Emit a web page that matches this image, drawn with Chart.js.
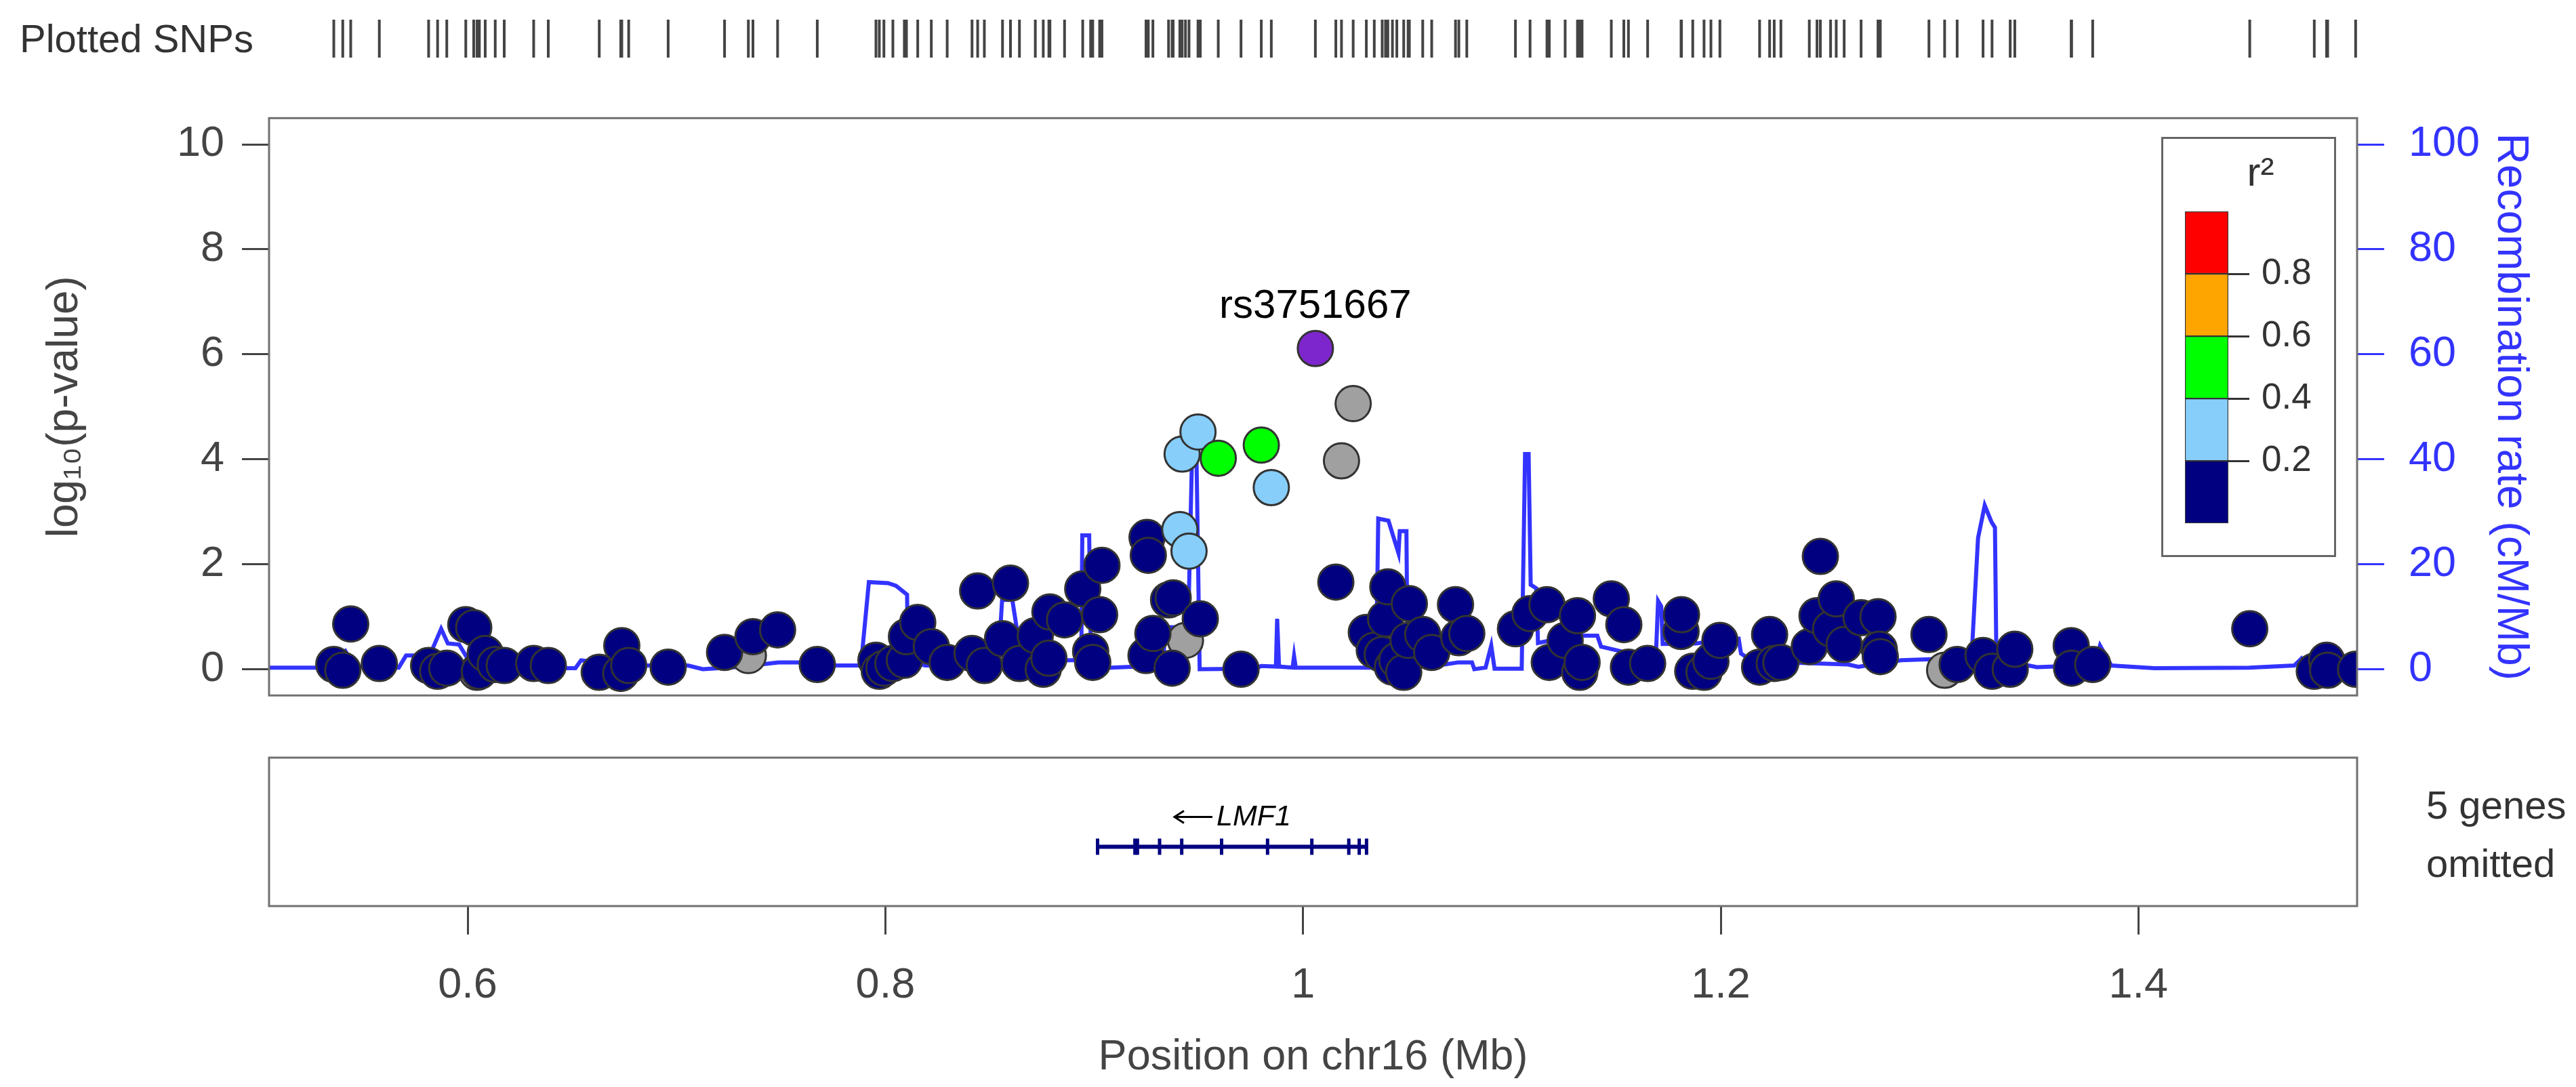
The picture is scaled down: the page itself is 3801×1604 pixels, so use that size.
<!DOCTYPE html>
<html>
<head>
<meta charset="utf-8">
<script src="https://cdn.jsdelivr.net/npm/chart.js@4.4.1/dist/chart.umd.min.js"></script>
<style>
  html, body { margin: 0; padding: 0; background: #fff; }
  body { width: 3801px; height: 1604px; position: relative; overflow: hidden;
         font-family: "Liberation Sans", Arial, sans-serif; }
  .pane { position: absolute; }
  .pane canvas { display: block; }
  .txt { position: absolute; color: #333; white-space: nowrap; }
</style>
</head>
<body>
<div class="txt" style="left:29px; top:22px; font-size:58px; line-height:70px;">Plotted SNPs</div>
<div class="pane" style="left:0; top:17px;"><canvas id="rug" width="3801" height="80"></canvas></div>
<div class="pane" style="left:0; top:100px;"><canvas id="main" width="3801" height="1000"></canvas></div>
<div class="pane" style="left:3189px; top:202px;"><canvas id="ldkey" width="258" height="620"></canvas></div>
<div class="pane" style="left:0; top:1100px;"><canvas id="genes" width="3801" height="504"></canvas></div>
<div class="txt" style="left:3580px; top:1145px; font-size:58px; line-height:86px;">5 genes<br>omitted</div>

<script>
// ---- data ----
// SNP position (Mb), -log10 p, LD bin (0: r2<0.2, 1: 0.2-0.4, 2: 0.4-0.6, -1: no LD info, 9: index SNP)
const snpPos = [
  0.5359, 0.5402, 0.5440, 0.5577, 0.5813, 0.5856, 0.5900, 0.5991, 0.6029, 0.6045,
  0.6056, 0.6084, 0.6132, 0.6175, 0.6316, 0.6386, 0.6630, 0.6733, 0.6738, 0.6771,
  0.6960, 0.7230, 0.7344, 0.7366, 0.7484, 0.7674, 0.7955, 0.7971, 0.7993, 0.8036,
  0.8091, 0.8101, 0.8155, 0.8220, 0.8296, 0.8415, 0.8442, 0.8474, 0.8561, 0.8599,
  0.8642, 0.8718, 0.8756, 0.8783, 0.8788, 0.8858, 0.8945, 0.8983, 0.8993, 0.9026,
  0.9037, 0.9248, 0.9253, 0.9259, 0.9281, 0.9356, 0.9373, 0.9378, 0.9410, 0.9421,
  0.9437, 0.9454, 0.9497, 0.9508, 0.9594, 0.9703, 0.9800, 0.9848, 1.0059, 1.0157,
  1.0184, 1.0240, 1.0303, 1.0341, 1.0379, 1.0395, 1.0406, 1.0428, 1.0449, 1.0482,
  1.0503, 1.0509, 1.0573, 1.0616, 1.0730, 1.0746, 1.0784, 1.1017, 1.1087, 1.1168,
  1.1179, 1.1255, 1.1314, 1.1325, 1.1336, 1.1476, 1.1536, 1.1558, 1.1650, 1.1810,
  1.1812, 1.1866, 1.1920, 1.1953, 1.1996, 1.2186, 1.2234, 1.2256, 1.2288, 1.2424,
  1.2461, 1.2477, 1.2526, 1.2553, 1.2591, 1.2672, 1.2753, 1.2759, 1.2764, 1.2997,
  1.3072, 1.3132, 1.3256, 1.3299, 1.3386, 1.3408, 1.3678, 1.3680, 1.3781, 1.4533,
  1.4842, 1.4901, 1.4906, 1.5040
];
const snpLogP = [
  0.09, -0.02, 0.86, 0.11, 0.07, -0.04, 0.02, 0.85, 0.79, -0.06,
  -0.04, 0.30, 0.09, 0.07, 0.11, 0.07, -0.06, -0.08, 0.45, 0.07,
  0.04, 0.32, 0.26, 0.62, 0.75, 0.09, 0.17, -0.04, 0.02, 0.11,
  0.17, 0.62, 0.89, 0.43, 0.13, 0.30, 1.49, 0.07, 0.58, 1.64,
  0.11, 0.64, 0.00, 0.21, 1.09, 0.94, 1.53, 0.34, 0.13, 1.04,
  1.98, 0.26, 2.51, 2.17, 0.68, 1.32, 0.02, 1.36, 2.66, 4.10,
  0.55, 2.25, 4.52, 0.96, 4.02, 0.00, 4.27, 3.46, 6.11, 1.66,
  3.97, 5.06, 0.70, 0.36, 0.28, 0.96, 1.57, 0.04, 0.17, -0.06,
  0.55, 1.25, 0.66, 0.32, 1.23, 0.60, 0.68, 0.77, 1.06, 1.23,
  0.13, 0.55, 1.02, -0.06, 0.13, 1.34, 0.85, 0.04, 0.11, 0.72,
  1.04, -0.04, -0.06, 0.15, 0.55, 0.04, 0.66, 0.11, 0.13, 0.43,
  1.02, 2.15, 0.77, 1.34, 0.47, 0.98, 1.00, 0.38, 0.24, 0.66,
  -0.02, 0.09, 0.26, -0.04, 0.00, 0.38, 0.45, 0.02, 0.09, 0.77,
  -0.04, 0.17, -0.02, 0.00
];
const snpLD = [
  0, 0, 0, 0, 0, 0, 0, 0, 0, -1,
  0, 0, 0, 0, 0, 0, 0, 0, 0, 0,
  0, 0, -1, 0, 0, 0, 0, 0, 0, 0,
  0, 0, 0, 0, 0, 0, 0, 0, 0, 0,
  0, 0, 0, 0, 0, 0, 0, 0, 0, 0,
  0, 0, 0, 0, 0, 0, 0, 0, 1, 1,
  -1, 1, 1, 0, 2, 0, 2, 1, 9, 0,
  -1, -1, 0, 0, 0, 0, 0, 0, 0, 0,
  0, 0, 0, 0, 0, 0, 0, 0, 0, 0,
  0, 0, 0, 0, 0, 0, 0, 0, 0, 0,
  0, 0, 0, 0, 0, 0, 0, 0, 0, 0,
  0, 0, 0, 0, 0, 0, 0, 0, 0, 0,
  -1, 0, 0, 0, 0, 0, 0, 0, 0, 0,
  0, 0, 0, 0
];
const indexSnp = 'rs3751667';

// recombination rate (cM/Mb)
const recPos = [
  0.5049, 0.535, 0.5415, 0.546, 0.567, 0.5705, 0.5818, 0.5873, 0.5905, 0.5959,
  0.600, 0.610, 0.6478, 0.6516, 0.6543, 0.665, 0.686, 0.7055, 0.7126, 0.7162,
  0.7304, 0.7488, 0.7596, 0.7769, 0.7883, 0.7921, 0.8013, 0.8051, 0.8104, 0.8108,
  0.8191, 0.8540, 0.8559, 0.8608, 0.8640, 0.8660, 0.8878, 0.8938, 0.8943, 0.8976,
  0.8985, 0.9078, 0.9175, 0.9330, 0.9340, 0.9380, 0.9400, 0.9450, 0.9468, 0.9490,
  0.9505, 0.9765, 0.9800, 0.9870, 0.9876, 0.9885, 0.9950, 0.9957, 0.9965, 1.0350,
  1.0360, 1.0409, 1.0457, 1.0463, 1.0495, 1.0500, 1.0679, 1.0744, 1.0809, 1.0820,
  1.0874, 1.0901, 1.0917, 1.1047, 1.1063, 1.1080, 1.1090, 1.1117, 1.1125, 1.1301,
  1.1409, 1.1427, 1.1523, 1.1690, 1.1700, 1.1715, 1.1722, 1.1880, 1.2086, 1.2097,
  1.2150, 1.2610, 1.2659, 1.2864, 1.3005, 1.3200, 1.3232, 1.3264, 1.3297, 1.3313,
  1.3320, 1.3449, 1.3514, 1.3790, 1.3816, 1.3870, 1.4076, 1.4530, 1.4746, 1.4780,
  1.4800, 1.5047
];
const recRate = [
  0.3, 0.3, 3.4, 0.5, 0.3, 2.6, 2.6, 7.7, 4.9, 4.7,
  2.0, 0.5, 0.2, 0.2, 1.7, 1.2, 0.7, 0.7, 0.0, 0.1,
  0.45, 1.3, 1.3, 0.7, 0.7, 16.6, 16.4, 15.9, 14.2, 1.5,
  0.7, 0.8, 13.2, 13.2, 5.0, 1.0, 1.7, 1.7, 25.5, 25.5,
  0.5, 0.3, 0.45, 0.8, 8.0, 8.0, 4.0, 8.0, 40.0, 40.0,
  0.0, 0.1, 0.6, 0.5, 9.6, 0.5, 0.3, 2.5, 0.3, 0.3,
  28.7, 28.3, 22.1, 26.3, 26.3, 2.0, 0.9, 1.3, 1.3, 0.0,
  0.3, 4.5, 0.1, 0.1, 41.0, 41.0, 16.1, 15.4, 5.0, 6.4,
  6.4, 4.3, 3.4, 3.0, 13.0, 12.0, 4.8, 4.9, 5.8, 3.0,
  1.5, 0.9, 0.45, 1.7, 1.9, 1.5, 25.0, 31.2, 28.0, 27.0,
  1.5, 0.9, 0.4, 0.8, 4.5, 0.7, 0.2, 0.3, 0.7, 2.0,
  0.5, 0.5
];

// gene track
const geneName = 'LMF1';
const geneStart = 0.9016, geneEnd = 1.0304;
const exonPos = [0.9016, 0.9195, 0.9207, 0.9313, 0.9419, 0.9610, 0.9830, 1.0042, 1.0219, 1.0269, 1.0304];

// axes and key
const xTicks = [0.6, 0.8, 1, 1.2, 1.4];
const pTicks = [0, 2, 4, 6, 8, 10];
const recTicks = [0, 20, 40, 60, 80, 100];
const ldBreaks = [0.2, 0.4, 0.6, 0.8];
const ldColors = ['#000080', '#87CEFA', '#00FF00', '#FFA500', '#FF0000'];
const greyColor = '#A0A0A0', indexColor = '#7D26CD';

const xMin = 0.5049, xMax = 1.5047;
const FONT = '"Liberation Sans", Arial, sans-serif';
const RECOMB = '#3333FF';

Chart.defaults.font.family = FONT;
Chart.defaults.animation = false;
Chart.defaults.responsive = false;
Chart.defaults.plugins.legend.display = false;
Chart.defaults.plugins.tooltip.enabled = false;

const fixTicks = list => scale => { scale.ticks = list.map(v => ({ value: v })); };

// box round the plotting area
const frame = {
  id: 'frame',
  afterDatasetsDraw(chart, args, opts) {
    const { ctx, chartArea: a } = chart;
    ctx.save();
    ctx.strokeStyle = opts.color || '#666';
    ctx.lineWidth = opts.width || 3;
    ctx.strokeRect(a.left, a.top, a.right - a.left, a.bottom - a.top);
    ctx.restore();
  }
};

// ---- main panel ----
const groups = [
  { ld: 9, color: indexColor, order: 0 },
  { ld: 2, color: ldColors[2], order: 1 },
  { ld: 1, color: ldColors[1], order: 2 },
  { ld: 0, color: ldColors[0], order: 3 },
  { ld: -1, color: greyColor, order: 4 }
];
const pointSets = groups.map(g => ({
  type: 'scatter',
  order: g.order,
  data: snpPos.map((x, i) => ({ x: x, y: snpLogP[i], ld: snpLD[i] })).filter(d => d.ld === g.ld),
  backgroundColor: g.color,
  borderColor: '#333333',
  borderWidth: 3,
  pointRadius: 26,
  pointHoverRadius: 26,
  yAxisID: 'y'
}));

const snpLabel = {
  id: 'snpLabel',
  afterDatasetsDraw(chart) {
    const { ctx, scales } = chart;
    const i = snpLD.indexOf(9);
    ctx.save();
    ctx.font = '60px ' + FONT;
    ctx.fillStyle = '#000';
    ctx.textAlign = 'center';
    ctx.textBaseline = 'alphabetic';
    ctx.fillText(indexSnp, scales.x.getPixelForValue(snpPos[i]), scales.y.getPixelForValue(6.69));
    ctx.restore();
  }
};

new Chart(document.getElementById('main'), {
  data: {
    datasets: pointSets.concat([{
      type: 'line',
      order: 10,
      data: recPos.map((x, i) => ({ x: x, y: recRate[i] })),
      borderColor: RECOMB,
      borderWidth: 6,
      pointRadius: 0,
      tension: 0,
      yAxisID: 'y2'
    }])
  },
  options: {
    layout: { padding: { left: 0, right: 0, top: 74.3, bottom: 62.2 } },
    scales: {
      x: { type: 'linear', min: xMin, max: xMax, display: false },
      y: {
        type: 'linear', position: 'left', min: -0.5, max: 10.5,
        afterBuildTicks: fixTicks(pTicks),
        afterFit: s => { s.width = 397; },
        grid: { drawOnChartArea: false, tickLength: 40, tickColor: '#444', lineWidth: 3 },
        border: { display: false },
        ticks: { color: '#444', font: { size: 63 }, padding: 26 },
        title: { display: true, text: 'log\u2081\u2080(p-value)', color: '#444', font: { size: 64 }, padding: { top: 58 } }
      },
      y2: {
        type: 'linear', position: 'right', min: -5, max: 105,
        afterBuildTicks: fixTicks(recTicks),
        afterFit: s => { s.width = 3801 - 3478; },
        grid: { drawOnChartArea: false, tickLength: 40, tickColor: RECOMB, lineWidth: 3 },
        border: { display: false },
        ticks: { color: RECOMB, font: { size: 63 }, padding: 36 },
        title: { display: true, text: 'Recombination rate (cM/Mb)', color: RECOMB, font: { size: 64 }, padding: { top: 59 } }
      }
    },
    plugins: { frame: { color: '#707070', width: 3 } }
  },
  plugins: [frame, snpLabel]
});

// ---- rug of plotted SNPs ----
new Chart(document.getElementById('rug'), {
  type: 'scatter',
  data: {
    datasets: [{
      data: snpPos.map(x => ({ x: x, y: 0 })),
      pointStyle: 'line',
      rotation: 90,
      pointRadius: 28,
      borderWidth: 4,
      borderColor: '#444444',
      clip: false
    }]
  },
  options: {
    layout: { padding: { left: 397, right: 3801 - 3478, top: 0, bottom: 0 } },
    scales: {
      x: { type: 'linear', min: xMin, max: xMax, display: false },
      y: { min: -1, max: 1, display: false }
    }
  }
});

// ---- r2 key ----
const keyBorder = {
  id: 'keyBorder',
  beforeDraw(chart) {
    const { ctx, width, height } = chart;
    ctx.save();
    ctx.strokeStyle = '#666';
    ctx.lineWidth = 3;
    ctx.strokeRect(1.5, 1.5, width - 3, height - 3);
    ctx.restore();
  }
};
new Chart(document.getElementById('ldkey'), {
  type: 'bar',
  data: {
    labels: ['r2'],
    datasets: ldColors.map(c => ({
      data: [0.2],
      backgroundColor: c,
      borderColor: '#333333',
      borderWidth: 1.5,
      borderSkipped: false,
      barPercentage: 1,
      categoryPercentage: 1
    }))
  },
  options: {
    layout: { padding: { left: 35, top: 0, bottom: 30, right: 0 } },
    scales: {
      x: { stacked: true, display: false },
      y: {
        stacked: true, position: 'right', min: 0, max: 1,
        afterBuildTicks: fixTicks(ldBreaks),
        afterFit: s => { s.width = 159; },
        grid: { drawOnChartArea: false, tickLength: 31, tickColor: '#333', lineWidth: 3 },
        border: { display: false },
        ticks: { color: '#333', font: { size: 53 }, padding: 18, callback: v => v.toFixed(1) }
      }
    },
    plugins: {
      title: { display: true, text: 'r\u00b2', color: '#333', font: { size: 60, weight: 'normal' }, padding: { top: 19, bottom: 19 } }
    }
  },
  plugins: [keyBorder]
});

// ---- gene track with the position axis ----
const geneY = 0.4;
const geneLabel = {
  id: 'geneLabel',
  afterDatasetsDraw(chart) {
    const { ctx, scales } = chart;
    const cx = scales.x.getPixelForValue((geneStart + geneEnd) / 2);
    const y = scales.y.getPixelForValue(0.6);
    ctx.save();
    ctx.font = 'italic 43px ' + FONT;
    const w = ctx.measureText(geneName).width;
    const arrow = 58;
    const left = cx - (w + arrow + 6) / 2;
    ctx.fillStyle = '#000';
    ctx.textBaseline = 'middle';
    ctx.textAlign = 'left';
    ctx.fillText(geneName, left + arrow + 6, y);
    ctx.strokeStyle = '#000';
    ctx.lineWidth = 3;
    ctx.beginPath();
    ctx.moveTo(left + arrow, y);
    ctx.lineTo(left + 2, y);
    ctx.moveTo(left + 16, y - 9);
    ctx.lineTo(left + 2, y);
    ctx.lineTo(left + 16, y + 9);
    ctx.stroke();
    ctx.restore();
  }
};
new Chart(document.getElementById('genes'), {
  data: {
    datasets: [{
      type: 'scatter',
      data: exonPos.map(x => ({ x: x, y: geneY })),
      pointStyle: 'line',
      rotation: 90,
      pointRadius: 12,
      borderWidth: 5,
      borderColor: '#000080'
    }, {
      type: 'line',
      data: [{ x: geneStart, y: geneY }, { x: geneEnd, y: geneY }],
      borderColor: '#000080',
      borderWidth: 6,
      pointRadius: 0
    }]
  },
  options: {
    layout: { padding: { left: 397, right: 3801 - 3478, top: 18, bottom: 0 } },
    scales: {
      x: {
        type: 'linear', position: 'bottom', min: xMin, max: xMax,
        afterBuildTicks: fixTicks(xTicks),
        afterFit: s => { s.height = 267; },
        grid: { drawOnChartArea: false, tickLength: 42, tickColor: '#444', lineWidth: 3 },
        border: { display: false },
        ticks: { color: '#444', font: { size: 63 }, padding: 38, maxRotation: 0, autoSkip: false, callback: v => String(v) },
        title: { display: true, text: 'Position on chr16 (Mb)', color: '#444', font: { size: 63 }, padding: { bottom: 6 } }
      },
      y: { min: 0, max: 1, display: false }
    },
    plugins: { frame: { color: '#707070', width: 3 } }
  },
  plugins: [frame, geneLabel]
});
</script>
</body>
</html>
